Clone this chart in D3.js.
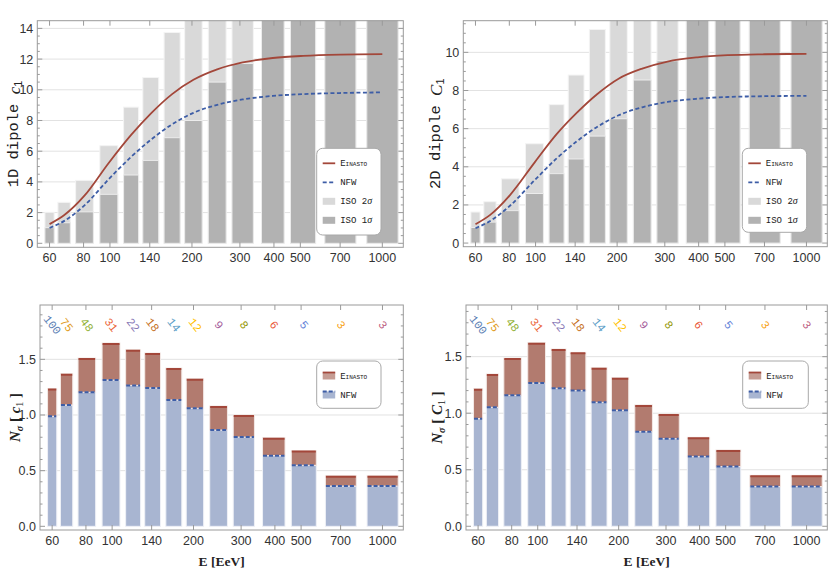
<!DOCTYPE html>
<html><head><meta charset="utf-8">
<script src="https://cdn.jsdelivr.net/npm/d3@7"></script>
<style>body{margin:0;background:#fff} svg{display:block}</style>
</head><body>
<svg id="c" width="830" height="581"></svg>
<script>
// ---------- data ----------
const binLo = [57.7, 64.4, 74.8, 91.8, 112.2, 132, 158, 188, 229.6, 280.5, 360, 460, 615, 877];
const binHi = [62.4, 71.5, 86.9, 106.9, 127.4, 151, 181, 218, 267, 336, 436, 569, 800, 1143];
const xTicks = [60, 80, 100, 140, 200, 300, 400, 500, 700, 1000];

const curveE = [60, 68, 80.6, 99.1, 119.6, 141.2, 169.1, 202.5, 247.6, 307, 396, 512, 701, 1000];
const ein1D = [1.25, 1.84, 3.10, 5.25, 7.06, 8.45, 9.72, 10.65, 11.33, 11.78, 12.07, 12.21, 12.29, 12.32];
const nfw1D = [1.00, 1.46, 2.47, 4.19, 5.63, 6.74, 7.75, 8.50, 9.02, 9.37, 9.60, 9.72, 9.79, 9.83];
const ein2D = [0.99, 1.48, 2.53, 4.22, 5.71, 6.80, 7.82, 8.62, 9.15, 9.52, 9.74, 9.85, 9.90, 9.92];
const nfw2D = [0.78, 1.16, 1.97, 3.29, 4.44, 5.31, 6.10, 6.70, 7.12, 7.40, 7.57, 7.66, 7.70, 7.72];

const iso1s1D = [1.02, 1.34, 2.05, 3.19, 4.45, 5.4, 6.88, 8.0, 10.5, 11.71, 15.2, 17.9, 27.0, 27.1];
const iso2s1D = [2.02, 2.67, 4.10, 6.36, 8.87, 10.8, 13.73, 16.0, 21.0, 23.4, 30.4, 35.8, 54.0, 54.2];
const iso1s2D = [0.82, 1.10, 1.70, 2.60, 3.64, 4.41, 5.61, 6.52, 8.55, 9.56, 12.4, 14.6, 22.0, 22.0];
const iso2s2D = [1.63, 2.17, 3.37, 5.21, 7.26, 8.81, 11.2, 13.04, 17.1, 19.1, 24.8, 29.2, 44.0, 44.0];

const nsEin1D = [1.237, 1.371, 1.512, 1.647, 1.587, 1.557, 1.422, 1.326, 1.081, 1.000, 0.796, 0.680, 0.455, 0.455];
const nsNfw1D = [0.988, 1.090, 1.204, 1.314, 1.266, 1.243, 1.135, 1.060, 0.865, 0.802, 0.635, 0.548, 0.362, 0.362];
const nsEin2D = [1.217, 1.347, 1.488, 1.624, 1.568, 1.538, 1.403, 1.314, 1.073, 0.993, 0.787, 0.675, 0.451, 0.451];
const nsNfw2D = [0.952, 1.052, 1.158, 1.267, 1.220, 1.200, 1.096, 1.026, 0.837, 0.775, 0.616, 0.528, 0.351, 0.351];

const eventCounts = [100, 75, 48, 31, 22, 18, 14, 12, 9, 8, 6, 5, 3, 3];
const countColors = ["#5e81b5","#e19c24","#8fb032","#eb6235","#8778b6","#c56e1a","#5d9ec7","#ffbf00","#a5609d","#929600","#e95536","#6685d9","#f89f13","#bc5b80"];

// ---------- style ----------
const C = {
  frame: "#9a9a9a", grid: "#e2e2e2", tick: "#333",
  ein: "#a3473a", nfw: "#3d5da6",
  iso2: "#d9d9d9", iso1: "#b2b2b2",
  einFill: "#b27b6f", nfwFill: "#a8b5d1"
};
const svg = d3.select("#c");
const mono = "'Liberation Mono', 'DejaVu Sans Mono', monospace";
const serif = "'Liberation Serif', 'DejaVu Serif', serif";
const sans = "'Liberation Sans', Arial, sans-serif";

const panels = [
  {id:"tl", kind:"top", left:37.3, right:403.3, top:20.7, bottom:247.3, ydom:[-0.26,14.5], yMajor:2, yMinor:0.5, yMax:14,
   ein:ein1D, nfw:nfw1D, s1:iso1s1D, s2:iso2s1D, label:"1D", sym:"c", labX:14, leg:{x:316.7,y:148.3,w:64.3,h:86.7}},
  {id:"tr", kind:"top", left:463.3, right:827.3, top:20.7, bottom:246.7, ydom:[-0.19,11.66], yMajor:2, yMinor:0.5, yMax:10,
   ein:ein2D, nfw:nfw2D, s1:iso1s2D, s2:iso2s2D, label:"2D", sym:"C", labX:436, leg:{x:742.3,y:148.3,w:64.4,h:84}},
  {id:"bl", kind:"bot", left:40, right:403.3, top:305, bottom:530, ydom:[-0.033,1.988], yMajor:0.5, yMinor:0.1, yMax:1.5,
   ein:nsEin1D, nfw:nsNfw1D, sym:"c", labX:15, leg:{x:316.7,y:361,w:64.3,h:47.3}},
  {id:"br", kind:"bot", left:466, right:827.3, top:305, bottom:530, ydom:[-0.033,1.957], yMajor:0.5, yMinor:0.1, yMax:1.5,
   ein:nsEin2D, nfw:nsNfw2D, sym:"C", labX:437, leg:{x:742.7,y:361,w:65.6,h:47.3}}
];

panels.forEach(p => {
  const x = d3.scaleLog().domain([54.1, 1194]).range([p.left, p.right]);
  const y = d3.scaleLinear().domain(p.ydom).range([p.bottom, p.top]);
  const g = svg.append("g");
  const clipId = "clip-" + p.id;
  svg.append("defs").append("clipPath").attr("id", clipId)
    .append("rect").attr("x", p.left).attr("y", p.top).attr("width", p.right - p.left).attr("height", p.bottom - p.top);

  const majors = d3.range(0, p.yMax + 1e-9, p.yMajor);
  const minors = d3.range(0, p.ydom[1], p.yMinor).filter(v => Math.abs(v / p.yMajor - Math.round(v / p.yMajor)) > 1e-6);

  // grid
  g.append("g").selectAll("line").data(majors.filter(v => v > 0)).join("line")
    .attr("x1", p.left).attr("x2", p.right).attr("y1", d => y(d)).attr("y2", d => y(d))
    .attr("stroke", C.grid).attr("stroke-width", 1);

  const plot = g.append("g").attr("clip-path", `url(#${clipId})`);
  const idx = d3.range(binLo.length);

  if (p.kind === "top") {
    plot.append("g").selectAll("rect").data(idx).join("rect")
      .attr("x", i => x(binLo[i])).attr("width", i => x(binHi[i]) - x(binLo[i]))
      .attr("y", i => y(p.s2[i])).attr("height", i => y(0) - y(p.s2[i]))
      .attr("fill", C.iso2).attr("stroke", "#f4f4f4").attr("stroke-width", 1);
    plot.append("g").selectAll("rect").data(idx).join("rect")
      .attr("x", i => x(binLo[i])).attr("width", i => x(binHi[i]) - x(binLo[i]))
      .attr("y", i => y(p.s1[i])).attr("height", i => y(0) - y(p.s1[i]))
      .attr("fill", C.iso1).attr("stroke", "#ececec").attr("stroke-width", 1);
    const line = d3.line().x((d, i) => x(curveE[i])).y(d => y(d)).curve(d3.curveMonotoneX);
    plot.append("path").attr("d", line(p.ein)).attr("fill", "none").attr("stroke", C.ein).attr("stroke-width", 1.8);
    plot.append("path").attr("d", line(p.nfw)).attr("fill", "none").attr("stroke", C.nfw).attr("stroke-width", 1.8).attr("stroke-dasharray", "4,2.5");
  } else {
    plot.append("g").selectAll("rect").data(idx).join("rect")
      .attr("x", i => x(binLo[i])).attr("width", i => x(binHi[i]) - x(binLo[i]))
      .attr("y", i => y(p.nfw[i])).attr("height", i => y(0) - y(p.nfw[i]))
      .attr("fill", C.nfwFill).attr("stroke", "#eef0f6").attr("stroke-width", 1);
    plot.append("g").selectAll("rect").data(idx).join("rect")
      .attr("x", i => x(binLo[i])).attr("width", i => x(binHi[i]) - x(binLo[i]))
      .attr("y", i => y(p.ein[i])).attr("height", i => y(p.nfw[i]) - y(p.ein[i]))
      .attr("fill", C.einFill).attr("stroke", "#f3e9e6").attr("stroke-width", 1);
    plot.append("g").selectAll("line").data(idx).join("line")
      .attr("x1", i => x(binLo[i]) + 0.5).attr("x2", i => x(binHi[i]) - 0.5)
      .attr("y1", i => y(p.ein[i]) + 1).attr("y2", i => y(p.ein[i]) + 1)
      .attr("stroke", C.ein).attr("stroke-width", 2);
    plot.append("g").selectAll("line").data(idx).join("line")
      .attr("x1", i => x(binLo[i]) + 0.5).attr("x2", i => x(binHi[i]) - 0.5)
      .attr("y1", i => y(p.nfw[i])).attr("y2", i => y(p.nfw[i]))
      .attr("stroke", C.nfw).attr("stroke-width", 2).attr("stroke-dasharray", "4,2");
    // event counts
    g.append("g").selectAll("text").data(idx).join("text")
      .attr("transform", i => `translate(${x(Math.sqrt(binLo[i] * binHi[i]))},${p.top + 20}) rotate(52)`)
      .attr("text-anchor", "middle").attr("dominant-baseline", "central")
      .attr("font-family", mono).attr("font-size", 11.5)
      .attr("fill", i => countColors[i]).text(i => eventCounts[i]);
  }

  // frame
  g.append("rect").attr("x", p.left).attr("y", p.top).attr("width", p.right - p.left).attr("height", p.bottom - p.top)
    .attr("fill", "none").attr("stroke", C.frame).attr("stroke-width", 1);

  // ticks
  const yt = g.append("g").attr("stroke", C.frame).attr("stroke-width", 1);
  majors.forEach(v => {
    yt.append("line").attr("x1", p.left).attr("x2", p.left + 5).attr("y1", y(v)).attr("y2", y(v));
    yt.append("line").attr("x1", p.right).attr("x2", p.right - 5).attr("y1", y(v)).attr("y2", y(v));
  });
  minors.forEach(v => {
    yt.append("line").attr("x1", p.left).attr("x2", p.left + 2.5).attr("y1", y(v)).attr("y2", y(v));
    yt.append("line").attr("x1", p.right).attr("x2", p.right - 2.5).attr("y1", y(v)).attr("y2", y(v));
  });
  xTicks.forEach(v => {
    yt.append("line").attr("x1", x(v)).attr("x2", x(v)).attr("y1", p.bottom).attr("y2", p.bottom - 5);
    yt.append("line").attr("x1", x(v)).attr("x2", x(v)).attr("y1", p.top).attr("y2", p.top + 5);
  });
  const yfmt = p.kind === "top" ? d3.format("d") : d3.format(".1f");
  g.append("g").selectAll("text").data(majors).join("text")
    .attr("x", p.left - 4).attr("y", d => y(d)).attr("dy", "0.36em").attr("text-anchor", "end")
    .attr("font-family", sans).attr("font-size", 12.5).attr("fill", C.tick).text(d => yfmt(d));
  g.append("g").selectAll("text").data(xTicks).join("text")
    .attr("x", d => x(d)).attr("y", p.bottom + 15).attr("text-anchor", "middle")
    .attr("font-family", sans).attr("font-size", 12.5).attr("fill", C.tick).text(d => d);

  // axis labels
  const cy = (p.top + p.bottom) / 2;
  if (p.kind === "top") {
    const t = g.append("text").attr("transform", `translate(${p.labX},${cy}) rotate(-90)`)
      .attr("text-anchor", "middle").attr("dominant-baseline", "central").attr("fill", "#222");
    t.append("tspan").attr("font-family", mono).attr("font-size", 15.5).text(p.label + " dipole ");
    t.append("tspan").attr("font-family", serif).attr("font-style", "italic").attr("font-size", 17).text(p.sym);
    t.append("tspan").attr("font-family", sans).attr("font-size", 11).attr("dy", 4).text("1");
  } else {
    const t = g.append("text").attr("transform", `translate(${p.labX},${cy}) rotate(-90)`)
      .attr("text-anchor", "middle").attr("dominant-baseline", "central").attr("fill", "#222")
      .attr("font-family", serif).attr("font-weight", "bold");
    t.append("tspan").attr("font-style", "italic").attr("font-size", 15).text("N");
    t.append("tspan").attr("font-style", "italic").attr("font-size", 10).attr("dy", 4).text("σ");
    t.append("tspan").attr("font-size", 15).attr("dy", -4).text(" [ ");
    t.append("tspan").attr("font-style", "italic").attr("font-size", 15).text(p.sym);
    t.append("tspan").attr("font-size", 10).attr("dy", 4).attr("font-weight", "normal").text("1");
    t.append("tspan").attr("font-size", 15).attr("dy", -4).text(" ]");
    g.append("text").attr("x", (p.left + p.right) / 2).attr("y", 566).attr("text-anchor", "middle")
      .attr("font-family", serif).attr("font-weight", "bold").attr("font-size", 13.5).attr("fill", "#222")
      .text("E [EeV]");
  }

  // legend
  const L = p.leg;
  const lg = g.append("g");
  lg.append("rect").attr("x", L.x).attr("y", L.y).attr("width", L.w).attr("height", L.h).attr("rx", 6)
    .attr("fill", "#fff").attr("stroke", "#a8a8a8").attr("stroke-width", 1);
  const sx = L.x + 6, sw = 12.5, tx = L.x + 23.5;
  const legText = (yy, parts) => {
    const t = lg.append("text").attr("x", tx).attr("y", yy).attr("dy", "0.35em")
      .attr("font-family", mono).attr("font-size", 9).attr("fill", "#222");
    parts.forEach(pt => {
      const s = t.append("tspan").text(pt.t);
      if (pt.sc) s.attr("font-variant", "small-caps");
      if (pt.it) s.attr("font-family", serif).attr("font-style", "italic").attr("font-size", 10);
    });
  };
  if (p.kind === "top") {
    const ys = [L.y + 15, L.y + 34, L.y + 53, L.y + 72];
    lg.append("line").attr("x1", sx).attr("x2", sx + sw).attr("y1", ys[0]).attr("y2", ys[0]).attr("stroke", C.ein).attr("stroke-width", 1.8);
    lg.append("line").attr("x1", sx).attr("x2", sx + sw).attr("y1", ys[1]).attr("y2", ys[1]).attr("stroke", C.nfw).attr("stroke-width", 1.8).attr("stroke-dasharray", "4,2.5");
    lg.append("rect").attr("x", sx).attr("y", ys[2] - 3.5).attr("width", sw).attr("height", 7).attr("fill", C.iso2);
    lg.append("rect").attr("x", sx).attr("y", ys[3] - 3.5).attr("width", sw).attr("height", 7).attr("fill", C.iso1);
    legText(ys[0], [{t:"Einasto", sc:true}]);
    legText(ys[1], [{t:"NFW"}]);
    legText(ys[2], [{t:"ISO 2"}, {t:"σ", it:true}]);
    legText(ys[3], [{t:"ISO 1"}, {t:"σ", it:true}]);
  } else {
    const ys = [L.y + 15, L.y + 34];
    lg.append("rect").attr("x", sx).attr("y", ys[0] - 3.5).attr("width", sw).attr("height", 7).attr("fill", C.einFill).attr("opacity", 0.75);
    lg.append("line").attr("x1", sx).attr("x2", sx + sw).attr("y1", ys[0] - 3.5).attr("y2", ys[0] - 3.5).attr("stroke", C.ein).attr("stroke-width", 1.8);
    lg.append("rect").attr("x", sx).attr("y", ys[1] - 3.5).attr("width", sw).attr("height", 7).attr("fill", C.nfwFill);
    lg.append("line").attr("x1", sx).attr("x2", sx + sw).attr("y1", ys[1] - 3.5).attr("y2", ys[1] - 3.5).attr("stroke", C.nfw).attr("stroke-width", 1.8).attr("stroke-dasharray", "4,2");
    legText(ys[0], [{t:"Einasto", sc:true}]);
    legText(ys[1], [{t:"NFW"}]);
  }
});
</script>
</body></html>
